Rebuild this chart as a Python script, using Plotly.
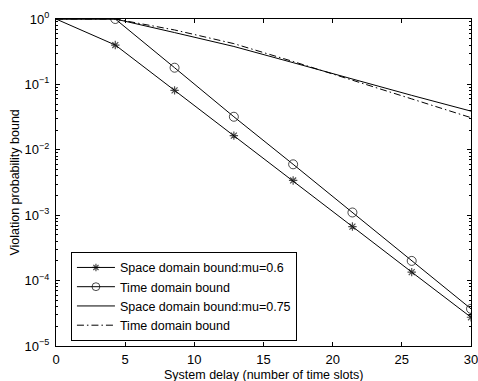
import numpy as np
import plotly.graph_objects as go

# Data
delay = [0, 30/7, 60/7, 90/7, 120/7, 150/7, 180/7, 30]
space_mu06 = [1, 0.4, 0.081, 0.0165, 0.0034, 0.00067, 0.000135, 2.75e-5]
time_mu06 = [1, 1, 0.18, 0.032, 0.006, 0.0011, 0.0002, 3.7e-5]
space_mu075 = [1, 1, 0.62, 0.38, 0.215, 0.12, 0.068, 0.039]
time_mu075 = [1, 1, 0.68, 0.42, 0.224, 0.117, 0.06, 0.031]
names = ["Space domain bound:mu=0.6", "Time domain bound",
         "Space domain bound:mu=0.75", "Time domain bound"]
x_title = "System delay (number of time slots)"
y_title = "Violation probability bound"

font = "Liberation Sans, Arial, Helvetica, sans-serif"
fig = go.Figure()

ms_star = [0] + [7] * (len(delay) - 1)
ms_circ = [0] + [9] * (len(delay) - 1)

fig.add_trace(go.Scatter(x=delay, y=space_mu06, name=names[0], mode="lines+markers",
                         line=dict(color="black", width=1),
                         marker=dict(symbol="asterisk-open", size=ms_star, color="black",
                                     line=dict(color="black", width=1.2))))
fig.add_trace(go.Scatter(x=delay, y=time_mu06, name=names[1], mode="lines+markers",
                         line=dict(color="black", width=1),
                         marker=dict(symbol="circle-open", size=ms_circ, color="black",
                                     line=dict(color="black", width=1))))
fig.add_trace(go.Scatter(x=delay, y=space_mu075, name=names[2], mode="lines",
                         line=dict(color="black", width=1)))
fig.add_trace(go.Scatter(x=delay, y=time_mu075, name=names[3], mode="lines",
                         line=dict(color="black", width=1, dash="7px,3px,1.5px,3px")))

axis_common = dict(showline=True, linecolor="black", linewidth=1, mirror="allticks",
                   ticks="inside", tickcolor="black", showgrid=False, zeroline=False,
                   automargin=False, ticklabeloverflow="allow",
                   tickfont=dict(family=font, size=13, color="black"))

fig.update_xaxes(range=[0, 30], tick0=0, dtick=5, ticklen=4, ticklabelstandoff=1,
                 **axis_common)
fig.update_yaxes(type="log", range=[-5, 0], tickvals=[1e-5, 1e-4, 1e-3, 1e-2, 1e-1, 1],
                 ticktext=["10<sup>−5</sup>", "10<sup>−4</sup>", "10<sup>−3</sup>",
                           "10<sup>−2</sup>", "10<sup>−1</sup>", "10<sup>0</sup>"],
                 ticklen=4, ticklabelstandoff=3,
                 minor=dict(ticks="inside", ticklen=2, tickcolor="black", dtick="D1"),
                 **axis_common)

fig.add_annotation(text=x_title, xref="paper", yref="paper", x=0.5, y=-0.062,
                   xanchor="center", yanchor="top", showarrow=False,
                   font=dict(family=font, size=12.5, color="black"))
fig.add_annotation(text=y_title, xref="paper", yref="paper", x=-0.101, y=0.5,
                   xanchor="center", yanchor="middle", showarrow=False, textangle=-90,
                   font=dict(family=font, size=12.5, color="black"))

fig.update_layout(
    width=478, height=381,
    margin=dict(l=56, r=7, t=19, b=35),
    paper_bgcolor="white", plot_bgcolor="white",
    font=dict(family=font, size=12, color="black"),
    legend=dict(x=0.036, y=0.288, xanchor="left", yanchor="top",
                bgcolor="white", bordercolor="black", borderwidth=1,
                font=dict(family=font, size=12.5, color="black"),
                tracegroupgap=0, itemwidth=38),
)

fig.write_html("out.html")
